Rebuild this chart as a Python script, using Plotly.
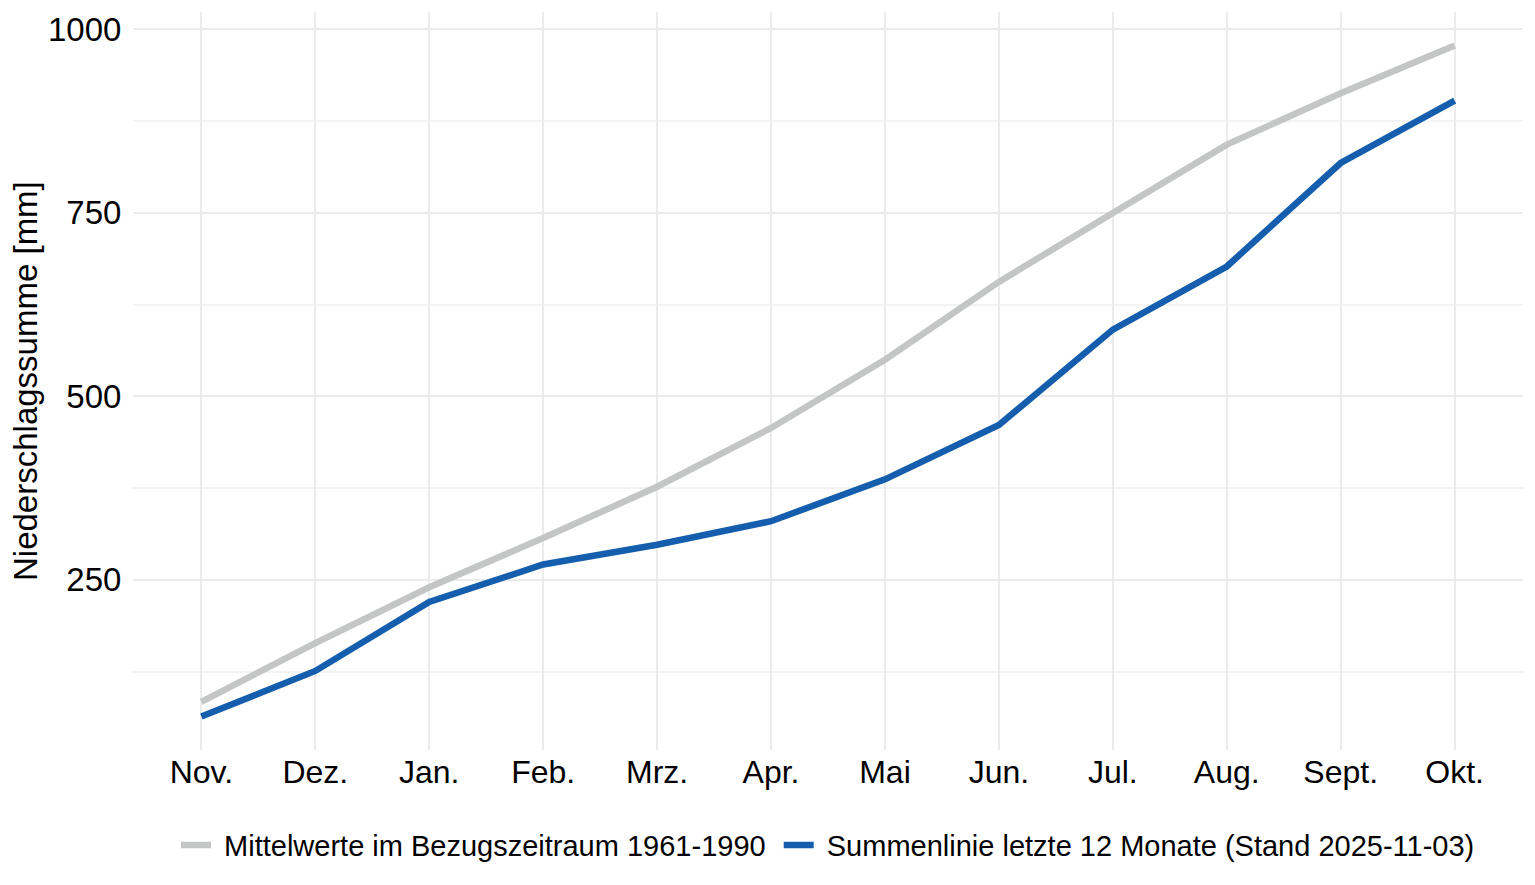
import plotly.graph_objects as go

# Monate (Nov. bis Okt.)
monate = ["Nov.", "Dez.", "Jan.", "Feb.", "Mrz.", "Apr.", "Mai", "Jun.", "Jul.", "Aug.", "Sept.", "Okt."]

# kumulierte Niederschlagssummen [mm]
mittel_1961_1990 = [84, 164, 240, 307, 377, 457, 550, 656, 750, 843, 913, 978]
summe_12_monate = [64, 126, 220, 271, 298, 330, 387, 461, 591, 677, 818, 903]

y_ticks = [250, 500, 750, 1000]
y_minor = [125, 375, 625, 875]

font_family = "Liberation Sans, Arial, sans-serif"
nb = "\u00a0"  # geschuetztes Leerzeichen fuer Abstand in der Legende

fig = go.Figure()

fig.add_trace(go.Scatter(
    x=monate, y=mittel_1961_1990,
    mode="lines",
    name=nb + "Mittelwerte im Bezugszeitraum 1961-1990" + nb,
    line=dict(color="#c4c6c5", width=6.5),
))

fig.add_trace(go.Scatter(
    x=monate, y=summe_12_monate,
    mode="lines",
    name=nb + "Summenlinie letzte 12 Monate (Stand 2025-11-03)",
    line=dict(color="#155eae", width=6.5),
))

ymin = min(summe_12_monate + mittel_1961_1990)
ymax = max(summe_12_monate + mittel_1961_1990)
pad = (ymax - ymin) * 0.05

# die Seite hat 8px Rand (body margin), daher etwas kleiner
fig.update_layout(
    width=1527, height=877,
    margin=dict(l=125, r=12, t=4, b=135),
    paper_bgcolor="white",
    plot_bgcolor="white",
    font=dict(family=font_family, size=32, color="black"),
    showlegend=True,
    legend=dict(
        orientation="h",
        x=0.5, xanchor="center",
        y=-0.129, yanchor="middle",
        font=dict(size=29, color="black"),
        itemwidth=30,
        tracegroupgap=0,
    ),
    xaxis=dict(
        type="category",
        range=[-0.6, len(monate) - 0.4],
        automargin=False,
        showgrid=True, gridcolor="#ebebeb", gridwidth=2,
        showline=False, zeroline=False,
        ticks="",
        tickfont=dict(size=32, color="black"),
    ),
    yaxis=dict(
        range=[ymin - pad, ymax + pad],
        automargin=False,
        tickvals=y_ticks,
        showgrid=True, gridcolor="#ebebeb", gridwidth=2,
        minor=dict(tickvals=y_minor, showgrid=True, gridcolor="#f3f3f3", gridwidth=1.5),
        showline=False, zeroline=False,
        ticks="outside", ticklen=4, tickcolor="rgba(0,0,0,0)",
        tickfont=dict(size=33, color="black"),
    ),
    annotations=[dict(
        text="Niederschlagssumme [mm]",
        xref="paper", yref="paper",
        x=-0.0777, y=0.5,
        xanchor="center", yanchor="middle",
        textangle=-90, showarrow=False,
        font=dict(size=33, color="black"),
    )],
)

fig.write_html("out.html")
